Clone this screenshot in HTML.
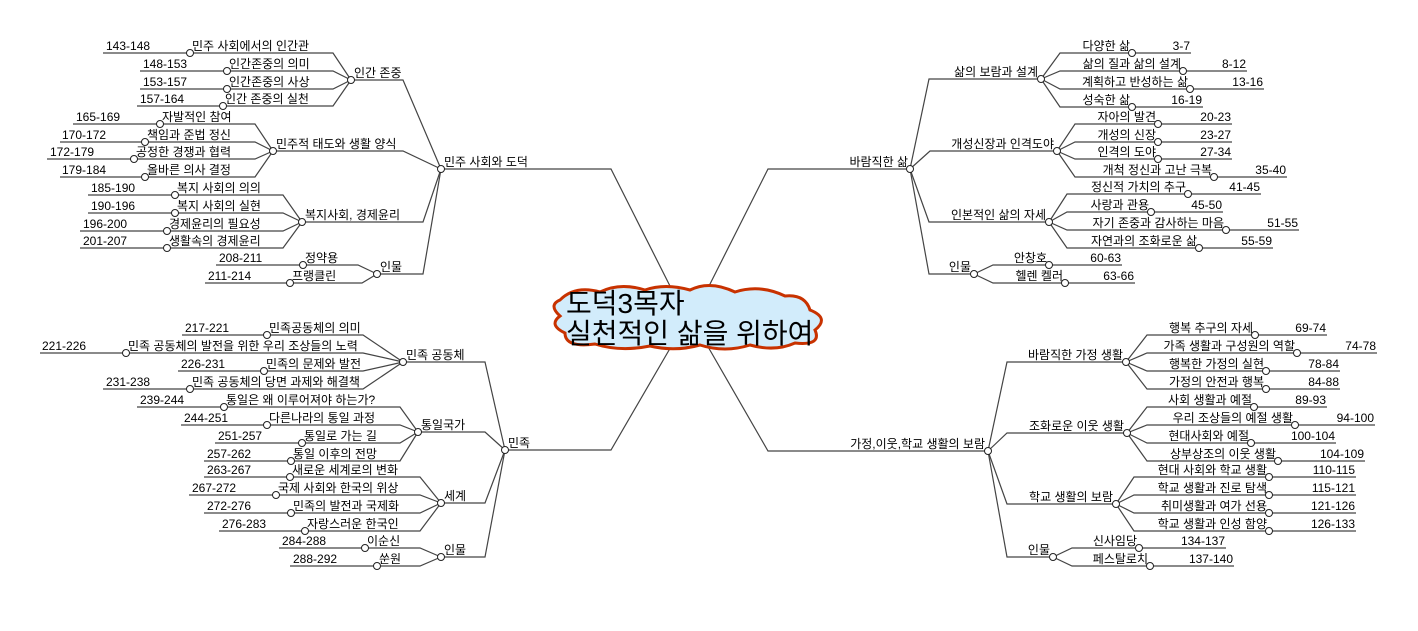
<!DOCTYPE html>
<html><head><meta charset="utf-8">
<style>
html,body{margin:0;padding:0;background:#fff;}
svg{display:block;}
text{font-family:"Liberation Sans","Noto Sans CJK KR",sans-serif;font-size:12px;fill:#000;}
.l{fill:none;stroke:#444;stroke-width:1.2;}
circle{fill:#fff;stroke:#222;stroke-width:1;}
.e{text-anchor:end;}
.big{font-size:28px;}
</style></head><body>
<svg width="1418" height="631" viewBox="0 0 1418 631" xmlns="http://www.w3.org/2000/svg">
<path class="l" d="M672,290 L611,169 H441"/>
<path class="l" d="M707,290 L768,169 H910"/>
<path class="l" d="M672,345 L611,450 H505"/>
<path class="l" d="M707,345 L768,451 H988"/>

<path class="l" d="M441,169 L403,80 H351"/>
<path class="l" d="M441,169 L403,151 H273"/>
<path class="l" d="M441,169 L423,222 H302"/>
<path class="l" d="M441,169 L423,274 H377"/>
<path class="l" d="M103,53 H333 L351,80"/>
<path class="l" d="M140,71 H333 L351,80"/>
<path class="l" d="M140,89 H333 L351,80"/>
<path class="l" d="M137,106 H333 L351,80"/>
<path class="l" d="M73,124 H255 L273,151"/>
<path class="l" d="M60,142 H255 L273,151"/>
<path class="l" d="M47,159 H255 L273,151"/>
<path class="l" d="M60,177 H255 L273,151"/>
<path class="l" d="M88,195 H283 L302,222"/>
<path class="l" d="M88,213 H283 L302,222"/>
<path class="l" d="M80,231 H283 L302,222"/>
<path class="l" d="M80,248 H283 L302,222"/>
<path class="l" d="M216,265 H358 L377,274"/>
<path class="l" d="M205,283 H362 L377,274"/>

<path class="l" d="M910,169 L929,79 H1041"/>
<path class="l" d="M910,169 L930,151 H1057"/>
<path class="l" d="M910,169 L929,222 H1049"/>
<path class="l" d="M910,169 L929,274 H974"/>
<path class="l" d="M1041,79 L1060,53 H1191"/>
<path class="l" d="M1041,79 L1060,71 H1247"/>
<path class="l" d="M1041,79 L1060,89 H1264"/>
<path class="l" d="M1041,79 L1060,107 H1203"/>
<path class="l" d="M1057,151 L1075,124 H1232"/>
<path class="l" d="M1057,151 L1075,142 H1232"/>
<path class="l" d="M1057,151 L1075,159 H1232"/>
<path class="l" d="M1057,151 L1075,177 H1287"/>
<path class="l" d="M1049,222 L1067,194 H1261"/>
<path class="l" d="M1049,222 L1067,212 H1223"/>
<path class="l" d="M1049,222 L1067,230 H1299"/>
<path class="l" d="M1049,222 L1067,248 H1273"/>
<path class="l" d="M974,274 L993,265 H1122"/>
<path class="l" d="M974,274 L993,283 H1135"/>

<path class="l" d="M505,450 L485,362 H403"/>
<path class="l" d="M505,450 L485,432 H418"/>
<path class="l" d="M505,450 L485,503 H441"/>
<path class="l" d="M505,450 L485,557 H441"/>
<path class="l" d="M182,335 H363 L403,362"/>
<path class="l" d="M40,353 H363 L403,362"/>
<path class="l" d="M178,371 H363 L403,362"/>
<path class="l" d="M103,389 H363 L403,362"/>
<path class="l" d="M137,407 H400 L418,432"/>
<path class="l" d="M181,425 H400 L418,432"/>
<path class="l" d="M215,443 H400 L418,432"/>
<path class="l" d="M204,461 H400 L418,432"/>
<path class="l" d="M204,477 H420 L441,503"/>
<path class="l" d="M189,495 H420 L441,503"/>
<path class="l" d="M204,513 H420 L441,503"/>
<path class="l" d="M219,531 H420 L441,503"/>
<path class="l" d="M279,548 H420 L441,557"/>
<path class="l" d="M290,566 H420 L441,557"/>

<path class="l" d="M988,451 L1007,362 H1126"/>
<path class="l" d="M988,451 L1007,433 H1127"/>
<path class="l" d="M988,451 L1007,504 H1116"/>
<path class="l" d="M988,451 L1007,557 H1053"/>
<path class="l" d="M1126,362 L1147,335 H1327"/>
<path class="l" d="M1126,362 L1147,353 H1377"/>
<path class="l" d="M1126,362 L1147,371 H1340"/>
<path class="l" d="M1126,362 L1147,389 H1340"/>
<path class="l" d="M1127,433 L1147,407 H1327"/>
<path class="l" d="M1127,433 L1147,425 H1375"/>
<path class="l" d="M1127,433 L1147,443 H1336"/>
<path class="l" d="M1127,433 L1147,461 H1365"/>
<path class="l" d="M1116,504 L1134,477 H1356"/>
<path class="l" d="M1116,504 L1134,495 H1356"/>
<path class="l" d="M1116,504 L1134,513 H1356"/>
<path class="l" d="M1116,504 L1134,531 H1356"/>
<path class="l" d="M1053,557 L1072,548 H1226"/>
<path class="l" d="M1053,557 L1072,566 H1234"/>

<path d="M560,300 Q575,285 600,292 Q620,282 645,290 Q665,283 690,290 Q710,280 735,292 Q760,284 785,296 Q805,294 810,310 Q830,318 815,330 Q822,346 795,343 Q775,352 750,345 Q725,353 700,345 Q675,352 650,346 Q620,352 595,344 Q565,348 565,333 Q548,325 560,316 Q548,305 560,300 Z" fill="#d2ecfb" stroke="#c83200" stroke-width="3"/>
<text class="big" x="566" y="313">도덕3목자</text>
<text class="big" x="566" y="343">실천적인 삶을 위하여</text>

<g>
<circle cx="441" cy="169" r="3.5"/><circle cx="910" cy="169" r="3.5"/><circle cx="505" cy="450" r="3.5"/><circle cx="988" cy="451" r="3.5"/>
<circle cx="351" cy="80" r="3.5"/><circle cx="273" cy="151" r="3.5"/><circle cx="302" cy="222" r="3.5"/><circle cx="377" cy="274" r="3.5"/>
<circle cx="190" cy="53" r="3.5"/><circle cx="227" cy="71" r="3.5"/><circle cx="227" cy="89" r="3.5"/><circle cx="223" cy="106" r="3.5"/>
<circle cx="160" cy="124" r="3.5"/><circle cx="145" cy="142" r="3.5"/><circle cx="134" cy="159" r="3.5"/><circle cx="145" cy="177" r="3.5"/>
<circle cx="175" cy="195" r="3.5"/><circle cx="175" cy="213" r="3.5"/><circle cx="167" cy="231" r="3.5"/><circle cx="167" cy="248" r="3.5"/>
<circle cx="303" cy="265" r="3.5"/><circle cx="290" cy="283" r="3.5"/>
<circle cx="1041" cy="79" r="3.5"/><circle cx="1057" cy="151" r="3.5"/><circle cx="1049" cy="222" r="3.5"/><circle cx="974" cy="274" r="3.5"/>
<circle cx="1132" cy="53" r="3.5"/><circle cx="1183" cy="71" r="3.5"/><circle cx="1190" cy="89" r="3.5"/><circle cx="1132" cy="107" r="3.5"/>
<circle cx="1158" cy="124" r="3.5"/><circle cx="1158" cy="142" r="3.5"/><circle cx="1158" cy="159" r="3.5"/><circle cx="1214" cy="177" r="3.5"/>
<circle cx="1188" cy="194" r="3.5"/><circle cx="1151" cy="212" r="3.5"/><circle cx="1226" cy="230" r="3.5"/><circle cx="1199" cy="248" r="3.5"/>
<circle cx="1049" cy="265" r="3.5"/><circle cx="1065" cy="283" r="3.5"/>
<circle cx="403" cy="362" r="3.5"/><circle cx="418" cy="432" r="3.5"/><circle cx="441" cy="503" r="3.5"/><circle cx="441" cy="557" r="3.5"/>
<circle cx="267" cy="335" r="3.5"/><circle cx="126" cy="353" r="3.5"/><circle cx="264" cy="371" r="3.5"/><circle cx="190" cy="389" r="3.5"/>
<circle cx="224" cy="407" r="3.5"/><circle cx="267" cy="425" r="3.5"/><circle cx="302" cy="443" r="3.5"/><circle cx="291" cy="461" r="3.5"/>
<circle cx="290" cy="477" r="3.5"/><circle cx="276" cy="495" r="3.5"/><circle cx="291" cy="513" r="3.5"/><circle cx="305" cy="531" r="3.5"/>
<circle cx="365" cy="548" r="3.5"/><circle cx="377" cy="566" r="3.5"/>
<circle cx="1126" cy="362" r="3.5"/><circle cx="1127" cy="433" r="3.5"/><circle cx="1116" cy="504" r="3.5"/><circle cx="1053" cy="557" r="3.5"/>
<circle cx="1255" cy="335" r="3.5"/><circle cx="1297" cy="353" r="3.5"/><circle cx="1266" cy="371" r="3.5"/><circle cx="1266" cy="389" r="3.5"/>
<circle cx="1254" cy="407" r="3.5"/><circle cx="1295" cy="425" r="3.5"/><circle cx="1251" cy="443" r="3.5"/><circle cx="1278" cy="461" r="3.5"/>
<circle cx="1269" cy="477" r="3.5"/><circle cx="1269" cy="495" r="3.5"/><circle cx="1269" cy="513" r="3.5"/><circle cx="1269" cy="531" r="3.5"/>
<circle cx="1139" cy="548" r="3.5"/><circle cx="1150" cy="566" r="3.5"/>
</g>

<text x="444" y="166">민주 사회와 도덕</text>
<text x="354" y="77">인간 존중</text>
<text x="276" y="148">민주적 태도와  생활 양식</text>
<text x="305" y="219">복지사회, 경제윤리</text>
<text x="380" y="271">인물</text>
<text x="106" y="50">143-148</text><text x="192" y="50">민주 사회에서의 인간관</text>
<text x="143" y="68">148-153</text><text x="229" y="68">인간존중의 의미</text>
<text x="143" y="86">153-157</text><text x="229" y="86">인간존중의 사상</text>
<text x="140" y="103">157-164</text><text x="225" y="103">인간 존중의 실천</text>
<text x="76" y="121">165-169</text><text x="162" y="121">자발적인 참여</text>
<text x="62" y="139">170-172</text><text x="147" y="139">책임과 준법 정신</text>
<text x="50" y="156">172-179</text><text x="136" y="156">공정한 경쟁과 협력</text>
<text x="62" y="174">179-184</text><text x="147" y="174">올바른 의사 결정</text>
<text x="91" y="192">185-190</text><text x="177" y="192">복지 사회의 의의</text>
<text x="91" y="210">190-196</text><text x="177" y="210">복지 사회의 실현</text>
<text x="83" y="228">196-200</text><text x="169" y="228">경제윤리의 필요성</text>
<text x="83" y="245">201-207</text><text x="169" y="245">생활속의 경제윤리</text>
<text x="219" y="262">208-211</text><text x="305" y="262">정약용</text>
<text x="208" y="280">211-214</text><text x="292" y="280">프랭클린</text>

<text class="e" x="908" y="166">바람직한 삶</text>
<text class="e" x="1038" y="76">삶의 보람과  설계</text>
<text class="e" x="1054" y="148">개성신장과 인격도야</text>
<text class="e" x="1046" y="219">인본적인 삶의 자세</text>
<text class="e" x="971" y="271">인물</text>
<text class="e" x="1130" y="50">다양한 삶</text><text class="e" x="1190" y="50">3-7</text>
<text class="e" x="1181" y="68">삶의 질과 삶의 설계</text><text class="e" x="1246" y="68">8-12</text>
<text class="e" x="1188" y="86">계획하고 반성하는 삶</text><text class="e" x="1263" y="86">13-16</text>
<text class="e" x="1130" y="104">성숙한 삶</text><text class="e" x="1202" y="104">16-19</text>
<text class="e" x="1156" y="121">자아의 발견</text><text class="e" x="1231" y="121">20-23</text>
<text class="e" x="1156" y="139">개성의 신장</text><text class="e" x="1231" y="139">23-27</text>
<text class="e" x="1156" y="156">인격의 도야</text><text class="e" x="1231" y="156">27-34</text>
<text class="e" x="1212" y="174">개척 정신과  고난 극복</text><text class="e" x="1286" y="174">35-40</text>
<text class="e" x="1186" y="191">정신적 가치의 추구</text><text class="e" x="1260" y="191">41-45</text>
<text class="e" x="1149" y="209">사랑과 관용</text><text class="e" x="1222" y="209">45-50</text>
<text class="e" x="1224" y="227">자기 존중과 감사하는 마음</text><text class="e" x="1298" y="227">51-55</text>
<text class="e" x="1197" y="245">자연과의 조화로운 삶</text><text class="e" x="1272" y="245">55-59</text>
<text class="e" x="1047" y="262">안창호</text><text class="e" x="1121" y="262">60-63</text>
<text class="e" x="1063" y="280">헬렌 켈러</text><text class="e" x="1134" y="280">63-66</text>

<text x="508" y="447">민족</text>
<text x="406" y="359">민족 공동체</text>
<text x="421" y="429">통일국가</text>
<text x="444" y="500">세계</text>
<text x="444" y="554">인물</text>
<text x="185" y="332">217-221</text><text x="269" y="332">민족공동체의 의미</text>
<text x="42" y="350">221-226</text><text x="128" y="350">민족 공동체의 발전을 위한 우리 조상들의 노력</text>
<text x="181" y="368">226-231</text><text x="266" y="368">민족의 문제와 발전</text>
<text x="106" y="386">231-238</text><text x="192" y="386">민족 공동체의 당면 과제와 해결책</text>
<text x="140" y="404">239-244</text><text x="226" y="404">통일은 왜 이루어져야 하는가?</text>
<text x="184" y="422">244-251</text><text x="269" y="422">다른나라의 통일 과정</text>
<text x="218" y="440">251-257</text><text x="304" y="440">통일로 가는 길</text>
<text x="207" y="458">257-262</text><text x="293" y="458">통일 이후의 전망</text>
<text x="207" y="474">263-267</text><text x="292" y="474">새로운 세계로의 변화</text>
<text x="192" y="492">267-272</text><text x="278" y="492">국제 사회와 한국의 위상</text>
<text x="207" y="510">272-276</text><text x="293" y="510">민족의 발전과 국제화</text>
<text x="222" y="528">276-283</text><text x="307" y="528">자랑스러운 한국인</text>
<text x="282" y="545">284-288</text><text x="367" y="545">이순신</text>
<text x="293" y="563">288-292</text><text x="379" y="563">쑨원</text>

<text class="e" x="985" y="448">가정,이웃,학교 생활의 보람</text>
<text class="e" x="1123" y="359">바람직한 가정 생활</text>
<text class="e" x="1124" y="430">조화로운 이웃 생활</text>
<text class="e" x="1113" y="501">학교 생활의 보람</text>
<text class="e" x="1050" y="554">인물</text>
<text class="e" x="1253" y="332">행복 추구의 자세</text><text class="e" x="1326" y="332">69-74</text>
<text class="e" x="1295" y="350">가족 생활과  구성원의 역할</text><text class="e" x="1376" y="350">74-78</text>
<text class="e" x="1264" y="368">행복한 가정의 실현</text><text class="e" x="1339" y="368">78-84</text>
<text class="e" x="1264" y="386">가정의 안전과 행복</text><text class="e" x="1339" y="386">84-88</text>
<text class="e" x="1252" y="404">사회 생활과 예절</text><text class="e" x="1326" y="404">89-93</text>
<text class="e" x="1293" y="422">우리 조상들의  예절 생활</text><text class="e" x="1374" y="422">94-100</text>
<text class="e" x="1249" y="440">현대사회와 예절</text><text class="e" x="1335" y="440">100-104</text>
<text class="e" x="1276" y="458">상부상조의 이웃 생활</text><text class="e" x="1364" y="458">104-109</text>
<text class="e" x="1267" y="474">현대 사회와 학교 생활</text><text class="e" x="1355" y="474">110-115</text>
<text class="e" x="1267" y="492">학교 생활과 진로 탐색</text><text class="e" x="1355" y="492">115-121</text>
<text class="e" x="1267" y="510">취미생활과  여가 선용</text><text class="e" x="1355" y="510">121-126</text>
<text class="e" x="1267" y="528">학교 생활과 인성 함양</text><text class="e" x="1355" y="528">126-133</text>
<text class="e" x="1137" y="545">신사임당</text><text class="e" x="1225" y="545">134-137</text>
<text class="e" x="1148" y="563">페스탈로치</text><text class="e" x="1233" y="563">137-140</text>
</svg>
</body></html>
